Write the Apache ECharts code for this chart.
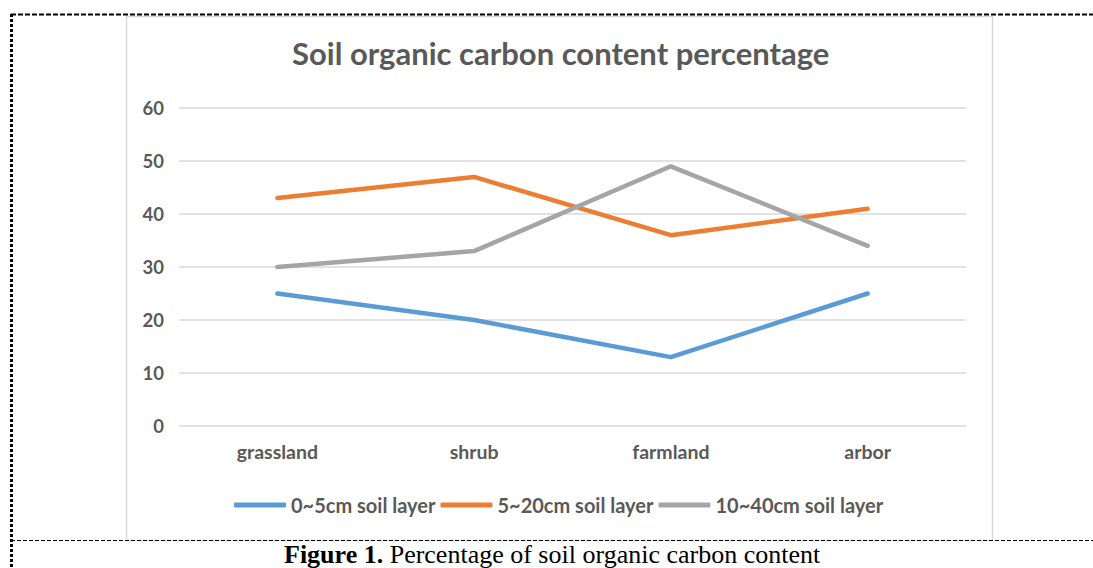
<!DOCTYPE html>
<html>
<head>
<meta charset="utf-8">
<script src="https://cdn.jsdelivr.net/npm/echarts@6/dist/echarts.min.js"></script>
<style>
html,body{margin:0;padding:0;background:#fff;}
#chart{width:1093px;height:568px;}
</style>
</head>
<body>
<div id="chart"></div>
<script>
const titleText = 'Soil organic carbon content percentage';
const captionBold = 'Figure 1.';
const captionRest = ' Percentage of soil organic carbon content';
const categories = ['grassland', 'shrub', 'farmland', 'arbor'];
const seriesNames = ['0~5cm soil layer', '5~20cm soil layer', '10~40cm soil layer'];
const layer0to5 = [25, 20, 13, 25];
const layer5to20 = [43, 47, 36, 41];
const layer10to40 = [30, 33, 49, 34];
const colors = ['#5B9BD5', '#ED7D31', '#A5A5A5'];
const yMin = 0, yMax = 60, yInterval = 10;

const chart = echarts.init(document.getElementById('chart'), null, {renderer: 'svg'});
const font = 'Lato, "Open Sans", sans-serif';
const txt = '#595959';
const mk = (name, data, color) => ({
  name, type: 'line', data, symbol: 'none', smooth: false,
  lineStyle: {color, width: 4.5, cap: 'round', join: 'round'},
  itemStyle: {color}
});
chart.setOption({
  animation: false,
  title: {
    text: titleText, left: 287, top: 32,
    textStyle: {fontFamily: font, fontSize: 31, fontWeight: 'bold', color: txt}
  },
  legend: {
    top: 490, left: 229, itemWidth: 52, itemHeight: 5, itemGap: 5,
    icon: 'roundRect',
    textStyle: {fontFamily: font, fontSize: 20, fontWeight: 'bold', color: txt},
    data: seriesNames.map((n, i) => ({name: n, itemStyle: {color: colors[i]}}))
  },
  grid: {left: 179, right: 127, top: 108, bottom: 142, containLabel: false},
  xAxis: {
    type: 'category', data: categories, boundaryGap: true,
    axisLine: {show: false}, axisTick: {show: false},
    axisLabel: {fontFamily: font, fontSize: 19.5, fontWeight: 'bold', color: txt, margin: 15}
  },
  yAxis: {
    type: 'value', min: yMin, max: yMax, interval: yInterval,
    axisLine: {show: false}, axisTick: {show: false},
    splitLine: {lineStyle: {color: '#D9D9D9', width: 1.5}},
    axisLabel: {fontFamily: font, fontSize: 18.5, fontWeight: 'bold', color: txt, margin: 15}
  },
  series: [
    mk(seriesNames[0], layer0to5, colors[0]),
    mk(seriesNames[1], layer5to20, colors[1]),
    mk(seriesNames[2], layer10to40, colors[2])
  ],
  graphic: [
    {type: 'rect', shape: {x: 126.5, y: 16.5, width: 866, height: 524}, style: {fill: 'none', stroke: '#D9D9D9', lineWidth: 1.5}, z: -1},
    {type: 'line', shape: {x1: 11, y1: 14.5, x2: 1093, y2: 14.5}, style: {stroke: '#000', lineWidth: 2, lineDash: [5, 2]}},
    {type: 'line', shape: {x1: 11.5, y1: 14, x2: 11.5, y2: 568}, style: {stroke: '#000', lineWidth: 3, lineDash: [3, 2]}},
    {type: 'line', shape: {x1: 11, y1: 540.5, x2: 1093, y2: 540.5}, style: {stroke: '#000', lineWidth: 1.2, lineDash: [4, 2]}},
    {type: 'text', left: 284, top: 541,
      style: {
        text: '{b|' + captionBold + '}{r|' + captionRest + '}',
        rich: {
          b: {fontFamily: '"Liberation Serif", "Times New Roman", serif', fontSize: 26, fontWeight: 'bold', fill: '#000'},
          r: {fontFamily: '"Liberation Serif", "Times New Roman", serif', fontSize: 26, fill: '#000'}
        }
      }}
  ]
});
</script>
</body>
</html>
